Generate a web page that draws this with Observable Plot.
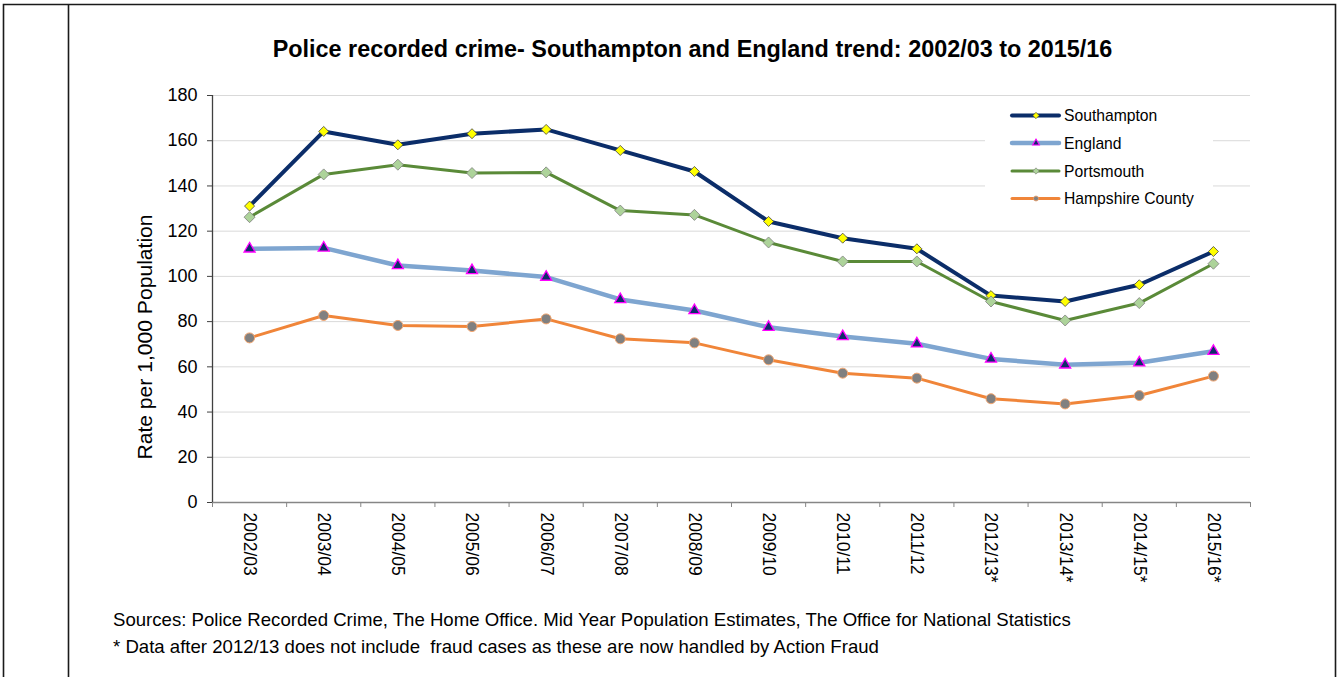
<!DOCTYPE html>
<html><head><meta charset="utf-8">
<script src="https://cdn.jsdelivr.net/npm/d3@7"></script>
<script src="https://cdn.jsdelivr.net/npm/@observablehq/plot@0.6"></script>
<style>
html,body{margin:0;padding:0;background:#fff;}
#wrap{position:relative;width:1339px;height:677px;overflow:hidden;font-family:"Liberation Sans",Arial,sans-serif;}
#wrap svg{position:absolute;left:0;top:0;}
</style></head>
<body><div id="wrap"></div>
<script>
const years = ["2002/03","2003/04","2004/05","2005/06","2006/07","2007/08","2008/09","2009/10","2010/11","2011/12","2012/13*","2013/14*","2014/15*","2015/16*"];
const southampton = [131.1,164.1,158.2,163.1,165.0,155.7,146.4,124.3,116.9,112.2,91.5,88.9,96.3,111.0];
const england     = [112.2,112.6,104.8,102.6,99.7,89.8,84.9,77.5,73.4,70.2,63.5,60.9,61.8,66.9];
const portsmouth  = [126.2,145.1,149.4,145.7,146.0,129.1,127.2,115.0,106.6,106.6,88.9,80.5,88.2,105.6];
const hampshire   = [72.8,82.7,78.3,77.8,81.2,72.4,70.6,63.1,57.2,55.0,45.9,43.6,47.3,55.9];
const seriesNames = ["Southampton","England","Portsmouth","Hampshire County"];
const yTicks = [0,20,40,60,80,100,120,140,160,180];
const title = "Police recorded crime- Southampton and England trend: 2002/03 to 2015/16";
const yLabel = "Rate per 1,000 Population";
const notes = ["Sources: Police Recorded Crime, The Home Office. Mid Year Population Estimates, The Office for National Statistics",
               "* Data after 2012/13 does not include  fraud cases as these are now handled by Action Fraud"];

const diamond = {draw(ctx, size){const r=Math.sqrt(size/2);ctx.moveTo(0,-r);ctx.lineTo(r,0);ctx.lineTo(0,r);ctx.lineTo(-r,0);ctx.closePath();}};

const styles = [
  {line:"#0b2d69", w:4, symbol:diamond, r:4.0, fill:"#ffff00", stroke:"#404040", sw:0.8},
  {line:"#7ea5d0", w:4.5, symbol:"triangle", r:4.1, fill:"#0f2d6a", stroke:"#ff00ff", sw:1.3},
  {line:"#5a8a38", w:3, symbol:diamond, r:4.4, fill:"#add39a", stroke:"#7f7f7f", sw:0.8},
  {line:"#f08539", w:3, symbol:"circle", r:5, fill:"#808080", stroke:"#f3a670", sw:1}
];
const allSeries = [southampton, england, portsmouth, hampshire];

const marks = [
  Plot.ruleY(yTicks.filter(d=>d>0), {stroke:"#d9d9d9", strokeWidth:1}),
  Plot.ruleY([0], {stroke:"#868686", strokeWidth:1.3}),
  Plot.ruleX([0], {stroke:"#404040", strokeWidth:1.3}),
  Plot.axisY({ticks:yTicks, tickSize:5, tickPadding:10, fontSize:18, label:null, stroke:"#404040"}),
  Plot.axisX({ticks:d3.range(0,15), tickSize:5, tickFormat:()=>"", label:null, stroke:"#868686"}),
  Plot.axisX({ticks:years.map((_,i)=>i+0.5), tickSize:0, tickPadding:10, tickRotate:90, fontSize:17.5,
              tickFormat:d=>years[Math.floor(d)], label:null})
];
allSeries.forEach((vals,k)=>{
  const s = styles[k];
  const data = vals.map((v,i)=>({x:i+0.5, y:v}));
  marks.push(Plot.line(data, {x:"x", y:"y", stroke:s.line, strokeWidth:s.w, strokeLinejoin:"round"}));
  marks.push(Plot.dot(data, {x:"x", y:"y", symbol:s.symbol, r:s.r, fill:s.fill, stroke:s.stroke, strokeWidth:s.sw}));
});

const chart = Plot.plot({
  width:1339, height:677,
  marginLeft:212, marginRight:89, marginTop:95, marginBottom:175,
  x:{type:"linear", domain:[0,14], axis:null},
  y:{domain:[0,180], axis:null},
  style:{fontFamily:"Liberation Sans, Arial, sans-serif", color:"#000", background:"transparent"},
  marks
});
document.getElementById("wrap").appendChild(chart);

// overlay: frame, title, axis title, legend, notes
const ov = d3.select("#wrap").append("svg").attr("width",1339).attr("height",677)
  .style("font-family","Liberation Sans, Arial, sans-serif");
ov.append("path").attr("d","M3.5,677V4.5H1335.5V677M68.5,4.5V677").attr("fill","none").attr("stroke","#1a1a1a").attr("stroke-width",1.6);
ov.append("text").attr("x",692.5).attr("y",56.5).attr("text-anchor","middle").attr("font-weight","bold").attr("font-size",23.4).text(title);
ov.append("text").attr("transform","translate(151.5,337) rotate(-90)").attr("text-anchor","middle").attr("font-size",21.1).text(yLabel);
ov.append("text").attr("x",113).attr("y",626).attr("font-size",18.6).style("white-space","pre").text(notes[0]);
ov.append("text").attr("x",113).attr("y",653).attr("font-size",18.6).style("white-space","pre").text(notes[1]);

const lg = ov.append("g");
lg.append("rect").attr("x",985).attr("y",96).attr("width",228).attr("height",118).attr("fill","#fff");
const rowY = [115.5,143,171,198.5];
seriesNames.forEach((name,k)=>{
  const s = styles[k], y = rowY[k];
  lg.append("line").attr("x1",1012).attr("x2",1059).attr("y1",y).attr("y2",y).attr("stroke",s.line).attr("stroke-width",s.w).attr("stroke-linecap","round");
  const sym = s.symbol==="triangle"?d3.symbolTriangle:s.symbol==="circle"?d3.symbolCircle:diamond;
  lg.append("path").attr("d",d3.symbol(sym, 20)()).attr("transform",`translate(1036,${y})`).attr("fill",s.fill).attr("stroke",s.stroke).attr("stroke-width",s.sw*0.8);
  lg.append("text").attr("x",1064).attr("y",y+5.8).attr("font-size",15.7).text(name);
});
</script>
</body></html>
